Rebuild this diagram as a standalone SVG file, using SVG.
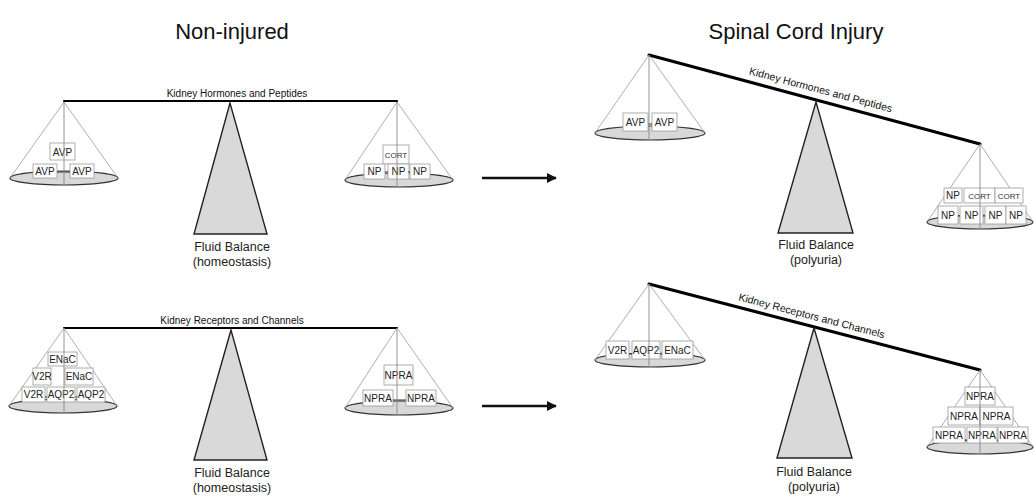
<svg xmlns="http://www.w3.org/2000/svg" width="1034" height="496" viewBox="0 0 1034 496">
<defs>
<marker id="ah" viewBox="0 0 10 10" refX="9" refY="5" markerWidth="4" markerHeight="4" orient="auto" markerUnits="strokeWidth">
<path d="M0,0 L10,5 L0,10 z" fill="#111"/>
</marker>
<style>
.title{font-family:"Liberation Sans",Arial,sans-serif;font-size:22px;fill:#111;text-anchor:middle}
.lbl{font-family:"Liberation Sans",Arial,sans-serif;font-size:12.5px;fill:#222;text-anchor:middle}
.bl{font-family:"Liberation Sans",Arial,sans-serif;font-size:10px;fill:#111;text-anchor:middle}
.blr{font-family:"Liberation Sans",Arial,sans-serif;font-size:10.5px;fill:#111;text-anchor:middle}
.t{font-family:"Liberation Sans",Arial,sans-serif;font-size:10px;fill:#222;text-anchor:middle}
.ts{font-family:"Liberation Sans",Arial,sans-serif;font-size:8px;fill:#333;text-anchor:middle}
.beam{stroke:#000;stroke-width:2.2;fill:none;stroke-linecap:round}
.beam2{stroke:#000;stroke-width:3;fill:none;stroke-linecap:round}
.arrow{stroke:#111;stroke-width:2.5;fill:none}
.cone{stroke:#999;stroke-width:0.8;fill:none}
.axis{stroke:#888;stroke-width:0.9;fill:none}
.pan{fill:#d8d8d8;stroke:#333;stroke-width:1.2}
.box{fill:#fff;stroke:#999;stroke-width:0.8}
.link{stroke:#333;stroke-width:1}
.ful{fill:#d9d9d9;stroke:#222;stroke-width:1.4}
</style>
</defs>
<rect width="1034" height="496" fill="#fff"/>

<text class="title" x="232" y="39">Non-injured</text>
<text class="title" x="796" y="39">Spinal Cord Injury</text>

<g id="connectors">
<line class="beam" x1="64" y1="101" x2="397" y2="101"/>
<line class="beam" x1="64" y1="328" x2="397" y2="328"/>
<line class="beam2" x1="649" y1="55" x2="980" y2="144"/>
<line class="beam2" x1="649" y1="284" x2="980" y2="370"/>
<line class="arrow" x1="482" y1="178" x2="556" y2="178" marker-end="url(#ah)"/>
<line class="arrow" x1="482" y1="406" x2="556" y2="406" marker-end="url(#ah)"/>
</g>

<g id="label-lt"><text class="bl" x="237" y="97">Kidney Hormones and Peptides</text></g>
<g id="label-lb"><text class="bl" x="232" y="324">Kidney Receptors and Channels</text></g>
<g id="label-rt"><text class="blr" transform="translate(818,100) rotate(15)" y="-7">Kidney Hormones and Peptides</text></g>
<g id="label-rb"><text class="blr" transform="translate(809,326) rotate(14.6)" y="-7">Kidney Receptors and Channels</text></g>

<g id="fulcrum-lt">
<path class="ful" d="M230,103 L194,234 L267,234 z"/>
<text class="lbl" x="232" y="251">Fluid Balance</text>
<text class="lbl" x="232" y="266">(homeostasis)</text>
</g>
<g id="fulcrum-lb">
<path class="ful" d="M231,330 L194,460 L267,460 z"/>
<text class="lbl" x="232" y="477">Fluid Balance</text>
<text class="lbl" x="232" y="492">(homeostasis)</text>
</g>
<g id="fulcrum-rt">
<path class="ful" d="M816,102 L778,233 L853,233 z"/>
<text class="lbl" x="816" y="249">Fluid Balance</text>
<text class="lbl" x="816" y="264">(polyuria)</text>
</g>
<g id="fulcrum-rb">
<path class="ful" d="M814,328 L777,458 L852,458 z"/>
<text class="lbl" x="814" y="476">Fluid Balance</text>
<text class="lbl" x="814" y="491">(polyuria)</text>
</g>

<g id="pan-lt-left">
<ellipse class="pan" cx="64" cy="178" rx="54" ry="7"/>
<line class="cone" x1="64" y1="102" x2="10" y2="178"/>
<line class="cone" x1="64" y1="102" x2="118" y2="178"/>
<rect class="box" x="50" y="143" width="25" height="17"/>
<text class="t" x="62.5" y="156">AVP</text>
<rect class="box" x="33" y="164" width="24" height="14" stroke="#ddd"/>
<text class="t" x="45" y="175">AVP</text>
<rect class="box" x="70" y="164" width="24" height="14" stroke="#ddd"/>
<text class="t" x="82" y="175">AVP</text>
<line class="link" x1="57" y1="172" x2="70" y2="172"/>
<line class="axis" x1="64" y1="102" x2="64" y2="185"/>
</g>

<g id="pan-lt-right">
<ellipse class="pan" cx="399" cy="180" rx="54" ry="7"/>
<line class="cone" x1="397" y1="102" x2="345" y2="180"/>
<line class="cone" x1="397" y1="102" x2="453" y2="180"/>
<rect class="box" x="383" y="145" width="26" height="19"/>
<text class="ts" x="396" y="158">CORT</text>
<rect class="box" x="364" y="164" width="21" height="15"/>
<text class="t" x="374.5" y="175">NP</text>
<rect class="box" x="388" y="164" width="21" height="15"/>
<text class="t" x="398.5" y="175">NP</text>
<rect class="box" x="410" y="164" width="20" height="15"/>
<text class="t" x="420" y="175">NP</text>
<line class="link" x1="385" y1="172" x2="388" y2="172"/>
<line class="link" x1="408" y1="172" x2="410" y2="172"/>
<line class="axis" x1="397" y1="102" x2="397" y2="187"/>
</g>

<g id="pan-lb-left">
<ellipse class="pan" cx="63" cy="406" rx="54" ry="7"/>
<line class="cone" x1="64" y1="328" x2="9" y2="406"/>
<line class="cone" x1="64" y1="328" x2="117" y2="406"/>
<rect class="box" x="48" y="352" width="29" height="14" stroke="#ccc"/>
<text class="t" x="62.5" y="363">ENaC</text>
<rect class="box" x="33" y="368" width="18" height="17"/>
<text class="t" x="42" y="380">V2R</text>
<rect class="box" x="65" y="368" width="28" height="17" stroke="#ccc"/>
<text class="t" x="79" y="380">ENaC</text>
<rect class="box" x="22" y="387" width="23" height="15"/>
<text class="t" x="33.5" y="398">V2R</text>
<rect class="box" x="47" y="387" width="28" height="15"/>
<text class="t" x="61" y="398">AQP2</text>
<rect class="box" x="77" y="387" width="28" height="15"/>
<text class="t" x="91" y="398">AQP2</text>
<line class="link" x1="45" y1="397" x2="47" y2="397"/>
<line class="link" x1="75" y1="397" x2="77" y2="397"/>
<line class="axis" x1="64" y1="328" x2="64" y2="413"/>
</g>

<g id="pan-lb-right">
<ellipse class="pan" cx="399" cy="408" rx="54" ry="7"/>
<line class="cone" x1="397" y1="328" x2="345" y2="408"/>
<line class="cone" x1="397" y1="328" x2="453" y2="408"/>
<rect class="box" x="384" y="365" width="29" height="20"/>
<text class="t" x="398.5" y="379">NPRA</text>
<rect class="box" x="363" y="390" width="30" height="16"/>
<text class="t" x="378" y="402">NPRA</text>
<rect class="box" x="406" y="390" width="30" height="16"/>
<text class="t" x="421" y="402">NPRA</text>
<line class="link" x1="393" y1="400" x2="406" y2="400"/>
<line class="axis" x1="397" y1="328" x2="397" y2="415"/>
</g>

<g id="pan-rt-left">
<ellipse class="pan" cx="650" cy="133" rx="55" ry="7"/>
<line class="cone" x1="649" y1="55" x2="595" y2="133"/>
<line class="cone" x1="649" y1="55" x2="705" y2="133"/>
<rect class="box" x="623" y="113" width="25" height="18"/>
<text class="t" x="635.5" y="126">AVP</text>
<rect class="box" x="652" y="113" width="25" height="18"/>
<text class="t" x="664.5" y="126">AVP</text>
<line class="link" x1="648" y1="124" x2="652" y2="124"/>
<line class="axis" x1="649" y1="55" x2="649" y2="140"/>
</g>

<g id="pan-rt-right">
<ellipse class="pan" cx="980" cy="222" rx="53" ry="7"/>
<line class="cone" x1="980" y1="144" x2="927" y2="222"/>
<line class="cone" x1="980" y1="144" x2="1033" y2="222"/>
<rect class="box" x="944" y="188" width="18" height="15" stroke="#ddd"/>
<text class="t" x="953" y="199">NP</text>
<rect class="box" x="964" y="188" width="31" height="15" stroke="#ccc"/>
<text class="ts" x="979.5" y="199">CORT</text>
<rect class="box" x="995" y="188" width="28" height="15"/>
<text class="ts" x="1009" y="199">CORT</text>
<rect class="box" x="938" y="206" width="20" height="18"/>
<text class="t" x="948" y="219">NP</text>
<rect class="box" x="960" y="206" width="23" height="18"/>
<text class="t" x="971.5" y="219">NP</text>
<rect class="box" x="985" y="206" width="21" height="18"/>
<text class="t" x="995.5" y="219">NP</text>
<rect class="box" x="1006" y="206" width="20" height="18"/>
<text class="t" x="1016" y="219">NP</text>
<line class="link" x1="958" y1="216" x2="960" y2="216"/>
<line class="link" x1="983" y1="216" x2="985" y2="216"/>
<line class="axis" x1="980" y1="144" x2="980" y2="229"/>
</g>

<g id="pan-rb-left">
<ellipse class="pan" cx="650" cy="360" rx="55" ry="7"/>
<line class="cone" x1="649" y1="284" x2="595" y2="360"/>
<line class="cone" x1="649" y1="284" x2="705" y2="360"/>
<rect class="box" x="606" y="341" width="23" height="18"/>
<text class="t" x="617.5" y="354">V2R</text>
<rect class="box" x="632" y="341" width="28" height="18"/>
<text class="t" x="646" y="354">AQP2</text>
<rect class="box" x="662" y="341" width="31" height="18"/>
<text class="t" x="677.5" y="354">ENaC</text>
<line class="link" x1="629" y1="354" x2="632" y2="354"/>
<line class="link" x1="660" y1="354" x2="662" y2="354"/>
<line class="axis" x1="649" y1="284" x2="649" y2="367"/>
</g>

<g id="pan-rb-right">
<ellipse class="pan" cx="980" cy="447" rx="53" ry="7"/>
<line class="cone" x1="980" y1="370" x2="927" y2="447"/>
<line class="cone" x1="980" y1="370" x2="1033" y2="447"/>
<rect class="box" x="965" y="387" width="30" height="18"/>
<text class="t" x="980" y="400">NPRA</text>
<rect class="box" x="948" y="407" width="32" height="18"/>
<text class="t" x="964" y="420">NPRA</text>
<rect class="box" x="980" y="407" width="33" height="18"/>
<text class="t" x="996.5" y="420">NPRA</text>
<rect class="box" x="933" y="427" width="32" height="16"/>
<text class="t" x="949" y="439">NPRA</text>
<rect class="box" x="967" y="427" width="30" height="16"/>
<text class="t" x="982" y="439">NPRA</text>
<rect class="box" x="998" y="427" width="30" height="16"/>
<text class="t" x="1013" y="439">NPRA</text>
<line class="link" x1="965" y1="440" x2="967" y2="440"/>
<line class="link" x1="997" y1="440" x2="998" y2="440"/>
<line class="axis" x1="980" y1="370" x2="980" y2="454"/>
</g>
</svg>
